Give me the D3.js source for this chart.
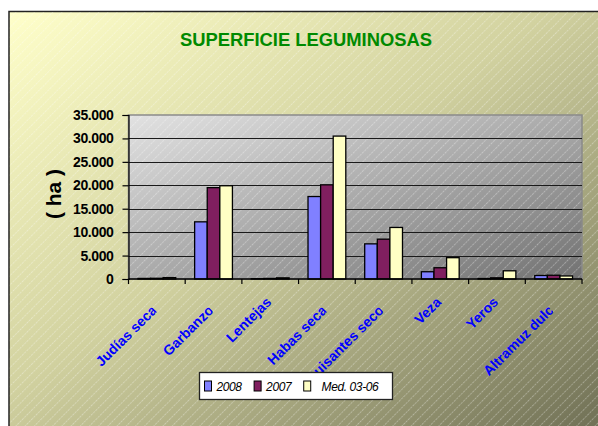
<!DOCTYPE html>
<html>
<head>
<meta charset="utf-8">
<script src="https://cdn.jsdelivr.net/npm/d3@7"></script>
<style>
  html, body { margin: 0; padding: 0; background: #fff; }
  svg { display: block; font-family: Arial, "Liberation Sans", sans-serif; }
</style>
</head>
<body>
<div id="chart"></div>
<script>
const TITLE = "SUPERFICIE LEGUMINOSAS"
const Y_LABEL = "( ha )"
const CATEGORIES = ["Judías secas", "Garbanzos", "Lentejas", "Habas secas", "Guisantes secos", "Veza", "Yeros", "Altramuz dulce"]
const SERIES_NAMES = ["2008", "2007", "  Med. 03-06"]
const VALUES_2008 = [120, 12200, 60, 17600, 7500, 1550, 100, 750]
const VALUES_2007 = [150, 19500, 120, 20100, 8500, 2400, 250, 800]
const VALUES_MED = [300, 19900, 250, 30500, 11000, 4550, 1750, 650]
const Y_TICKS = [0, 5000, 10000, 15000, 20000, 25000, 30000, 35000]
const COLORS = ["#8080ff", "#801f5f", "#ffffc4"]

const width = 598
const height = 426
const plot = { left: 128.5, right: 582, top: 115, bottom: 279 }

const svg = d3.select("#chart").append("svg")
  .attr("width", width)
  .attr("height", height)

const defs = svg.append("defs")

const bgGrad = defs.append("linearGradient")
  .attr("id", "bgGrad").attr("x1", "0").attr("y1", "0").attr("x2", "1").attr("y2", "1")
bgGrad.append("stop").attr("offset", "0").attr("stop-color", "#ffffca")
bgGrad.append("stop").attr("offset", "0.45").attr("stop-color", "#d2d2a0")
bgGrad.append("stop").attr("offset", "1").attr("stop-color", "#6e6e54")

const plotGrad = defs.append("linearGradient")
  .attr("id", "plotGrad").attr("x1", "0").attr("y1", "0").attr("x2", "1").attr("y2", "1")
plotGrad.append("stop").attr("offset", "0").attr("stop-color", "#e2e2e2")
plotGrad.append("stop").attr("offset", "1").attr("stop-color", "#727272")

// thin "/" hatch over the whole chart
const hatch = defs.append("pattern")
  .attr("id", "hatch")
  .attr("patternUnits", "userSpaceOnUse")
  .attr("width", 6.5).attr("height", 6.5)
  .attr("patternTransform", "rotate(45)")
hatch.append("line")
  .attr("x1", 0.5).attr("y1", 0).attr("x2", 0.5).attr("y2", 6.5)
  .attr("stroke", "#ffffff").attr("stroke-opacity", 0.45)
  .attr("stroke-width", 0.7).attr("stroke-dasharray", "2,1")

defs.append("clipPath").attr("id", "chartClip")
  .append("rect").attr("x", 9).attr("y", 12).attr("width", 600).attr("height", 420)

// chart area
svg.append("rect")
  .attr("x", 9).attr("y", 11.5).attr("width", 600).attr("height", 420)
  .attr("fill", "url(#bgGrad)")
  .attr("stroke", "#222").attr("stroke-width", 1.5)

svg.append("rect")
  .attr("x", plot.left).attr("y", plot.top)
  .attr("width", plot.right - plot.left).attr("height", plot.bottom - plot.top)
  .attr("fill", "url(#plotGrad)")

svg.append("rect")
  .attr("x", 9.75).attr("y", 12.25).attr("width", 600).attr("height", 420)
  .attr("fill", "url(#hatch)")
  .attr("clip-path", "url(#chartClip)")

svg.append("rect")
  .attr("x", plot.left).attr("y", plot.top)
  .attr("width", plot.right - plot.left).attr("height", plot.bottom - plot.top)
  .attr("fill", "none")
  .attr("stroke", "#8a8a8a").attr("stroke-width", 1.5)

// scales
const x0 = d3.scaleBand().domain(CATEGORIES).range([plot.left, plot.right]).padding(0)
const x1 = d3.scaleBand().domain(SERIES_NAMES).range([0, x0.bandwidth()])
  .paddingInner(0).paddingOuter(0.75)
const y = d3.scaleLinear().domain([0, 35000]).range([plot.bottom, plot.top])

const locale = d3.formatLocale({ decimal: ",", thousands: ".", grouping: [3], currency: ["", ""] })
const fmt = locale.format(",")

// gridlines
svg.append("g")
  .selectAll("line")
  .data(Y_TICKS.filter(d => d > 0 && d < 35000))
  .enter()
  .append("line")
  .attr("x1", plot.left).attr("x2", plot.right)
  .attr("y1", d => Math.round(y(d)) + 0.5).attr("y2", d => Math.round(y(d)) + 0.5)
  .attr("stroke", "#1a1a1a").attr("stroke-width", 1)

// bars
const seriesData = [VALUES_2008, VALUES_2007, VALUES_MED]
const rows = []
SERIES_NAMES.forEach((name, si) => {
  CATEGORIES.forEach((cat, ci) => {
    rows.push({ name, si, cat, value: seriesData[si][ci] })
  })
})

svg.append("g")
  .selectAll("rect")
  .data(rows)
  .enter()
  .append("rect")
  .attr("x", d => x0(d.cat) + x1(d.name))
  .attr("y", d => y(d.value))
  .attr("width", x1.bandwidth())
  .attr("height", d => y(0) - y(d.value))
  .attr("fill", d => COLORS[d.si])
  .attr("stroke", "#000").attr("stroke-width", 1.3)

// y axis
const yAxis = svg.append("g")
  .attr("transform", `translate(${plot.left},0)`)
  .call(d3.axisLeft(y).tickValues(Y_TICKS).tickSize(6).tickPadding(9).tickFormat(fmt))
yAxis.selectAll("text")
  .attr("fill", "#000")
  .attr("font-size", "14px")
  .attr("font-weight", "bold")
  .attr("letter-spacing", "-0.4")
  .attr("font-family", "Arial, 'Liberation Sans', sans-serif")
yAxis.selectAll(".domain, .tick line").attr("stroke", "#000").attr("stroke-width", 1.2)

// x axis: ticks at category boundaries
const xAxis = svg.append("g")
  .attr("transform", `translate(0,${plot.bottom})`)
xAxis.append("line")
  .attr("x1", plot.left).attr("x2", plot.right)
  .attr("stroke", "#000").attr("stroke-width", 1.5)
xAxis.selectAll("line.tick")
  .data(CATEGORIES.map(c => x0(c)).concat([plot.right]))
  .enter()
  .append("line")
  .attr("class", "tick")
  .attr("x1", d => d).attr("x2", d => d)
  .attr("y1", 0).attr("y2", 5)
  .attr("stroke", "#000").attr("stroke-width", 1.2)

// rotated category labels; long ones lose their last letters, as in Excel
const FIT = 62
CATEGORIES.forEach((cat, i) => {
  const g = svg.append("g")
  const t = g.append("text")
    .attr("fill", "#0000ff")
    .attr("font-size", "14px")
    .attr("font-weight", "bold")
    .attr("text-anchor", "end")
    .text(cat)
  const long = t.node().getComputedTextLength() > FIT
  const cx = x0(cat) + x0.bandwidth() / 2 + (long ? 0 : 2)
  const cy = plot.bottom + (long ? 33 : 24)
  const tf = `translate(${cx},${cy}) rotate(-45)`
  t.attr("transform", tf).attr("x", long ? 9 : 0)
  defs.append("clipPath").attr("id", "lab" + i)
    .append("rect")
    .attr("x", -160).attr("y", -18).attr("width", 160).attr("height", 26)
    .attr("transform", tf)
  g.attr("clip-path", `url(#lab${i})`)
})

// y title
svg.append("text")
  .attr("transform", "translate(61,194) rotate(-90)")
  .attr("text-anchor", "middle")
  .attr("font-size", "21px")
  .attr("font-weight", "bold")
  .attr("fill", "#000")
  .text(Y_LABEL)

// title
svg.append("text")
  .attr("x", 180).attr("y", 45.5)
  .attr("font-size", "19px")
  .attr("font-weight", "bold")
  .attr("textLength", 252)
  .attr("lengthAdjust", "spacingAndGlyphs")
  .attr("fill", "#008a00")
  .text(TITLE)

// legend
const legend = svg.append("g").attr("transform", "translate(199.5,372.5)")
legend.append("rect")
  .attr("width", 193).attr("height", 27)
  .attr("fill", "#fff")
  .attr("stroke", "#222").attr("stroke-width", 1.3)

let lx = 5
SERIES_NAMES.forEach((name, i) => {
  legend.append("rect")
    .attr("x", lx).attr("y", 8.5)
    .attr("width", 7).attr("height", 10)
    .attr("fill", COLORS[i])
    .attr("stroke", "#000").attr("stroke-width", 1)
  const t = legend.append("text")
    .attr("x", lx + 12).attr("y", 18)
    .attr("font-size", "12px")
    .attr("font-style", "italic")
    .attr("letter-spacing", "-0.4")
    .attr("fill", "#000")
    .style("white-space", "pre")
    .text(name)
  lx += 12 + t.node().getComputedTextLength() + 12.5
})
</script>
</body>
</html>
